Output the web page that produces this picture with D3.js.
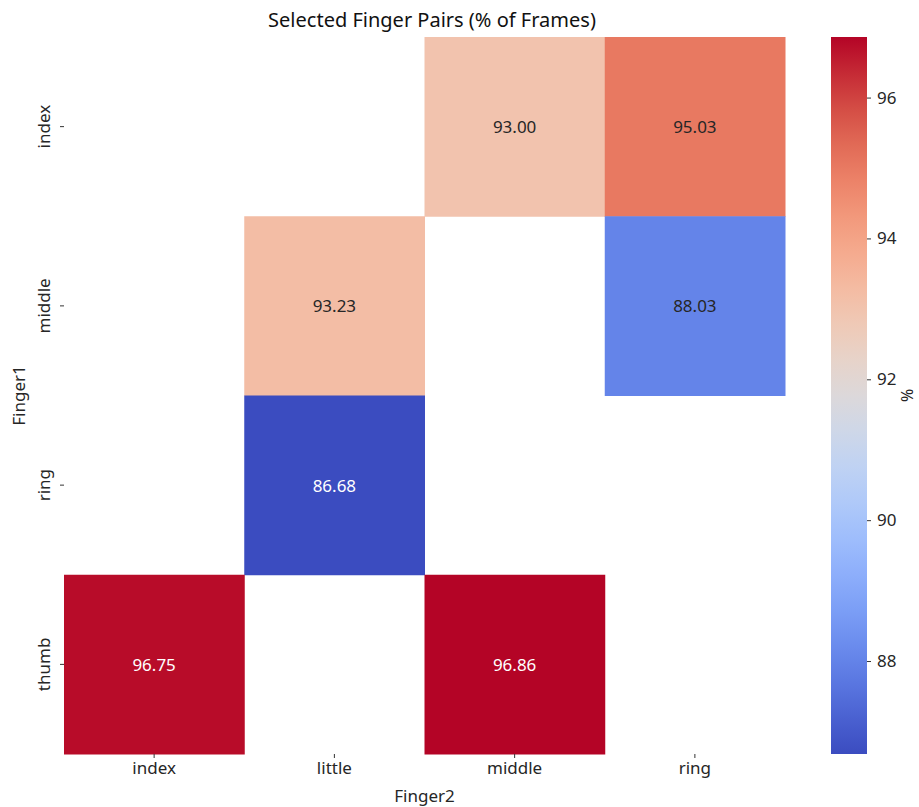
<!DOCTYPE html>
<html><head><meta charset="utf-8">
<script src="https://cdn.jsdelivr.net/npm/d3@7"></script>
<style>body{margin:0;background:#fff}svg{display:block}text{font-family:"Noto Sans",sans-serif}</style>
</head><body><svg id="c" width="919" height="807"></svg>
<script>
const cols = ["index","little","middle","ring"];
const rows = ["index","middle","ring","thumb"];
// values[row][col], null = missing
const values = [
  [null, null, 93.00, 95.03],
  [null, 93.23, null, 88.03],
  [null, 86.68, null, null],
  [96.75, null, 96.86, null]
];
const cbTicks = [88, 90, 92, 94, 96];
const title = "Selected Finger Pairs (% of Frames)";
const xTitle = "Finger2", yTitle = "Finger1", cbTitle = "%";

const coolwarm = ["#3b4cc0","#5977e3","#7b9ff9","#9ebeff","#c0d4f5","#dddcdc","#f2cbb7","#f7ac8e","#ee8468","#d65244","#b40426"];
const interp = d3.interpolateRgbBasis(coolwarm);

const svg = d3.select("#c");
const L = 64, R = 785, T = 37, B = 754;
const FS = 17;
const x = d3.scaleBand().domain(cols).range([L, R]);
const y = d3.scaleBand().domain(rows).range([T, B]);
const flat = [];
values.forEach((r,i)=>r.forEach((v,j)=>{ if(v!==null) flat.push({r:rows[i], c:cols[j], v}); }));
const vmin = d3.min(flat,d=>d.v), vmax = d3.max(flat,d=>d.v);
const color = d3.scaleSequential(interp).domain([vmin, vmax]);

svg.append("g").selectAll("rect").data(flat).join("rect")
  .attr("x", d=>x(d.c)).attr("y", d=>y(d.r))
  .attr("width", x.bandwidth()+0.5).attr("height", y.bandwidth()+0.5)
  .attr("fill", d=>color(d.v));
svg.append("g").selectAll("text").data(flat).join("text")
  .attr("x", d=>x(d.c)+x.bandwidth()/2).attr("y", d=>y(d.r)+y.bandwidth()/2)
  .attr("text-anchor","middle").attr("dominant-baseline","central")
  .attr("font-size", FS)
  .attr("fill", d=>{ const c=d3.rgb(color(d.v)); const lum=(0.2126*c.r+0.7152*c.g+0.0722*c.b)/255; return lum>0.408?"#262626":"#ffffff"; })
  .text(d=>d.v.toFixed(2));

// axes
const xa = svg.append("g").attr("transform",`translate(0,${B})`)
  .call(d3.axisBottom(x).tickSize(4).tickPadding(4));
xa.select(".domain").remove();
xa.selectAll("text").attr("font-size",FS).attr("fill","#262626").style("font-family","'Noto Sans',sans-serif");
xa.selectAll("line").attr("stroke","#333");
const ya = svg.append("g").attr("transform",`translate(${L},0)`)
  .call(d3.axisLeft(y).tickSize(4).tickPadding(5));
ya.select(".domain").remove();
ya.selectAll("line").attr("stroke","#333");
ya.selectAll("text").attr("font-size",FS).attr("fill","#262626").style("font-family","'Noto Sans',sans-serif")
  .attr("text-anchor","middle").attr("dy",0)
  .attr("transform", d=>`translate(-14,${y(d)+y.bandwidth()/2}) rotate(-90)`).attr("x",0).attr("y",0);
ya.selectAll(".tick").attr("transform", null);
ya.selectAll(".tick line").attr("transform", d=>`translate(0,${y(d)+y.bandwidth()/2})`);

svg.append("text").attr("x",(L+R)/2).attr("y",802).attr("text-anchor","middle")
  .attr("font-size",FS).attr("fill","#262626").text(xTitle);
svg.append("text").attr("transform",`translate(25,${(T+B)/2}) rotate(-90)`).attr("text-anchor","middle")
  .attr("font-size",FS).attr("fill","#262626").text(yTitle);
svg.append("text").attr("x",432).attr("y",27).attr("text-anchor","middle")
  .attr("font-size",20).attr("fill","#111").text(title);

// colorbar
const cbX = 831, cbW = 36;
const cy = d3.scaleLinear().domain([vmin, vmax]).range([B, T]);
const defs = svg.append("defs");
const grad = defs.append("linearGradient").attr("id","cbg").attr("x1",0).attr("y1",1).attr("x2",0).attr("y2",0);
d3.range(0,1.0001,0.05).forEach(t=>grad.append("stop").attr("offset",t).attr("stop-color",interp(t)));
svg.append("rect").attr("x",cbX).attr("y",T).attr("width",cbW).attr("height",B-T).attr("fill","url(#cbg)");
const ca = svg.append("g").attr("transform",`translate(${cbX+cbW},0)`)
  .call(d3.axisRight(cy).tickValues(cbTicks).tickSize(4).tickPadding(6));
ca.select(".domain").remove();
ca.selectAll("line").attr("stroke","#333");
ca.selectAll("text").attr("font-size",FS).attr("fill","#262626").style("font-family","'Noto Sans',sans-serif");
svg.append("text").attr("transform",`translate(901,${(T+B)/2}) rotate(90)`).attr("text-anchor","middle")
  .attr("font-size",FS-1).attr("fill","#262626").text(cbTitle);
</script></body></html>
